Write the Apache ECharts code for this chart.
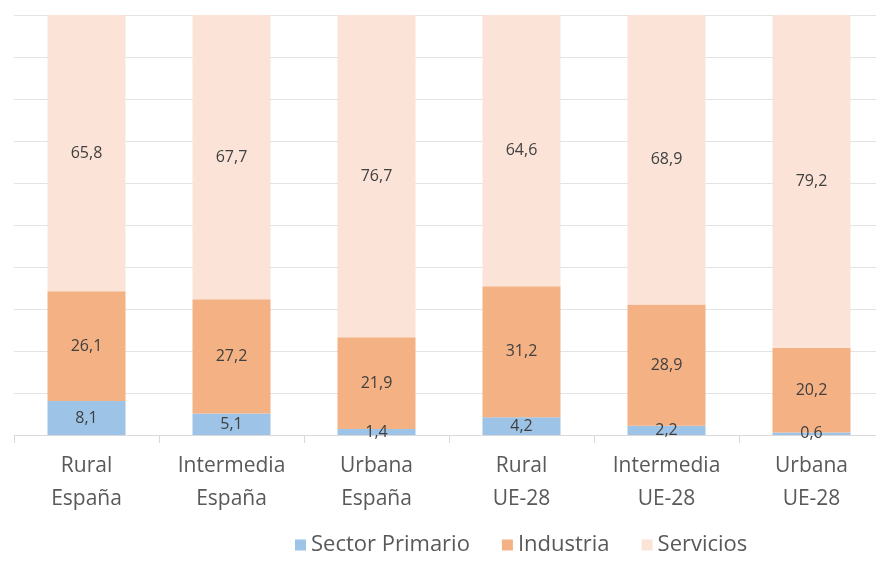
<!DOCTYPE html>
<html>
<head>
<meta charset="utf-8">
<script src="https://cdn.jsdelivr.net/npm/echarts@6/dist/echarts.min.js"></script>
<style>
  html, body { margin: 0; padding: 0; background: #fff; overflow: hidden; }
  #chart { width: 884px; height: 561px; }
</style>
</head>
<body>
<div id="chart"></div>
<script>
// categorías y valores (%)
const categories = ['Rural\nEspaña', 'Intermedia\nEspaña', 'Urbana\nEspaña', 'Rural\nUE-28', 'Intermedia\nUE-28', 'Urbana\nUE-28'];
const primario = [8.1, 5.1, 1.4, 4.2, 2.2, 0.6];
const industria = [26.1, 27.2, 21.9, 31.2, 28.9, 20.2];
const servicios = [65.8, 67.7, 76.7, 64.6, 68.9, 79.2];

const chart = echarts.init(document.getElementById('chart'));
const fmt = p => String(p.value).replace('.', ',');
const labelStyle = { show: true, position: 'inside', color: '#404040', fontSize: 16, fontFamily: 'Open Sans', formatter: fmt };

const option = {
  animation: false,
  grid: { left: 14, top: 15, right: 0, height: 420, containLabel: false },
  legend: {
    bottom: 0,
    left: 290,
    itemWidth: 11,
    itemHeight: 11,
    itemGap: 32,
    icon: 'rect',
    textStyle: { color: '#595959', fontSize: 22, fontFamily: 'Open Sans' },
    data: ['Sector Primario', 'Industria', 'Servicios']
  },
  xAxis: {
    type: 'category',
    data: categories,
    axisLine: { lineStyle: { color: '#d9d9d9' } },
    axisTick: { show: true, length: 8, lineStyle: { color: '#d9d9d9' } },
    axisLabel: { color: '#595959', fontSize: 21, fontFamily: 'Open Sans', lineHeight: 33, margin: 15 }
  },
  yAxis: {
    type: 'value',
    min: 0,
    max: 100,
    interval: 10,
    axisLabel: { show: false },
    axisLine: { show: false },
    splitLine: { lineStyle: { color: '#e3e3e3' } }
  },
  series: [
    { name: 'Sector Primario', type: 'bar', stack: 't', barWidth: 78, data: primario,
      itemStyle: { color: '#9dc3e6' }, label: labelStyle },
    { name: 'Industria', type: 'bar', stack: 't', data: industria,
      itemStyle: { color: '#f4b183' }, label: labelStyle },
    { name: 'Servicios', type: 'bar', stack: 't', data: servicios,
      itemStyle: { color: '#fbe4d7' }, label: labelStyle }
  ]
};
chart.setOption(option);
</script>
</body>
</html>
